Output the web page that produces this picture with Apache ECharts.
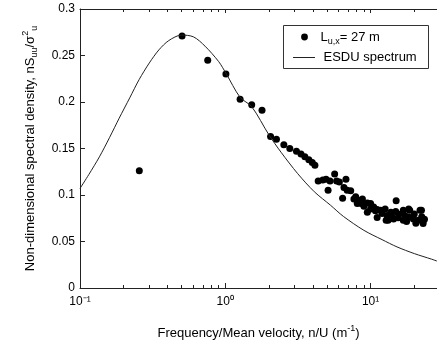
<!DOCTYPE html>
<html><head><meta charset="utf-8">
<script src="https://cdn.jsdelivr.net/npm/echarts@6/dist/echarts.min.js"></script>
<style>html,body{margin:0;padding:0;background:#fff}
#wrap{position:relative;width:437px;height:345px}
#c,#o{position:absolute;left:0;top:0;width:437px;height:345px}
#o{pointer-events:none}</style>
</head><body><div id="wrap"><div id="c"></div><div id="o"></div></div>
<script>
// Measured spectrum (n/U, nSuu/σu²)
const measuredX = [0.256,0.504,0.757,1.01,1.265,1.52,1.79,2.05,2.25,2.53,2.78,3.09,3.32,3.53,3.76,3.97,4.14,
  4.36,4.69,4.94,5.26,5.66,5.84,6.1,6.77,5.1,6.56,6.9,7.3,6.42,7.68,8.26,8.79,8.1,8.8,9.5,10.0,10.5,15.0,
  11.1,11.7,12.6,11.1,13.0,13.8,14.9,15.6,16.8,18.3,21.9,18.3,19.7,21.3,23.0,16.8,14.4,13.2,22.4,18.6,17.7,
  12.8,9.5,8.5,9.0,10.0,12.0,14.0,15.5,17.2,20.0,22.5,23.5,20.5,23.0,7.9,10.8];
const measuredY = [0.126,0.271,0.245,0.230,0.203,0.197,0.191,0.163,0.160,0.154,0.150,0.147,0.144,0.141,0.138,0.135,0.132,
  0.115,0.116,0.117,0.115,0.1225,0.115,0.114,0.117,0.105,0.108,0.105,0.1045,0.0966,0.0958,0.0944,0.0958,0.0908,0.0908,0.0915,0.0908,0.0872,0.0937,
  0.0844,0.0836,0.085,0.0757,0.0779,0.0815,0.0822,0.0793,0.0836,0.085,0.0836,0.0764,0.0742,0.0728,0.0721,0.0728,0.0742,0.0728,0.0836,0.0836,0.0714,
  0.0728,0.0815,0.091,0.088,0.085,0.080,0.077,0.0755,0.078,0.0795,0.0765,0.074,0.0695,0.0694,0.098,0.083];
// ESDU spectrum curve
const esduX = [0.1,0.115,0.136,0.16,0.186,0.22,0.255,0.3,0.349,0.408,0.5,0.605,0.726,0.9,1.01,1.265,1.52,2.0,2.42,3.15,4.1,5.3,6.5,9,12,15.2,20,26.3,28.6];
const esduY = [0.107,0.122,0.141,0.162,0.1825,0.2045,0.224,0.242,0.256,0.266,0.272,0.270,0.260,0.2435,0.231,0.205,0.195,0.1645,0.146,0.123,0.1035,0.089,0.077,0.062,0.052,0.0442,0.037,0.031,0.029];
const xMajorTicks = [0.1, 1, 10];
const xMajorLabels = ['10\u207B\u00B9', '10\u2070', '10\u00B9'];
const xMinorTicks = [0.2,0.3,0.4,0.5,0.6,0.7,0.8,0.9,2,3,4,5,6,7,8,9,20];
const seriesNames = ['Lux', 'ESDU spectrum'];

const FONT = "'Liberation Sans', Arial, Helvetica, sans-serif";
const XMIN = 0.1, XMAX = 28.66;

const zip = (a, b) => a.map((v, i) => [v, b[i]]);
const baseX = {type: 'log', logBase: 10, min: XMIN, max: XMAX, gridIndex: 0, splitLine: {show: false}};
const labelFor = v => {
  const i = xMajorTicks.findIndex(t => Math.abs(Math.log10(t) - Math.log10(v)) < 0.01);
  return i >= 0 ? xMajorLabels[i] : '';
};

const chart = echarts.init(document.getElementById('c'));
chart.setOption({
  animation: false,
  grid: {left: 80, right: -3, top: 9, bottom: 57},
  xAxis: [
    Object.assign({}, baseX, {
      position: 'bottom',
      axisLine: {show: true, lineStyle: {color: '#222', width: 1}},
      axisTick: {show: true, inside: true, length: 5, customValues: xMajorTicks, lineStyle: {color: '#222'}},
      axisLabel: {customValues: xMajorTicks, formatter: labelFor, fontFamily: FONT, fontSize: 12, color: '#000'}
    }),
    Object.assign({}, baseX, {
      position: 'bottom',
      axisLine: {show: false},
      axisTick: {show: true, inside: true, length: 3, customValues: xMinorTicks, lineStyle: {color: '#222'}},
      axisLabel: {show: false}
    }),
    Object.assign({}, baseX, {
      position: 'top',
      axisLine: {show: true, lineStyle: {color: '#222', width: 1}},
      axisTick: {show: true, inside: true, length: 4, customValues: xMajorTicks, lineStyle: {color: '#222'}},
      axisLabel: {show: false}
    }),
    Object.assign({}, baseX, {
      position: 'top',
      axisLine: {show: false},
      axisTick: {show: true, inside: true, length: 3, customValues: xMinorTicks, lineStyle: {color: '#222'}},
      axisLabel: {show: false}
    })
  ],
  yAxis: [{
    type: 'value', min: 0, max: 0.3, interval: 0.05, position: 'left',
    splitLine: {show: false},
    axisLine: {show: true, lineStyle: {color: '#222', width: 1}},
    axisTick: {show: true, inside: true, length: 5, lineStyle: {color: '#222'}},
    axisLabel: {fontFamily: FONT, fontSize: 12, color: '#000', margin: 5}
  }],
  series: [
    {
      name: seriesNames[0], type: 'scatter',
      data: zip(measuredX, measuredY), symbol: 'circle', symbolSize: 7,
      itemStyle: {color: '#000', opacity: 1}
    },
    {
      name: seriesNames[1], type: 'line',
      data: zip(esduX, esduY), showSymbol: false, symbol: 'none', smooth: 0.3,
      lineStyle: {color: '#222', width: 1}
    }
  ]
});

// Overlay instance: axis titles and legend box
const supRich = {
  m: {fontFamily: FONT, fontSize: 13, fill: '#000', lineHeight: 18},
  s: {fontFamily: FONT, fontSize: 9, fill: '#000', lineHeight: 10, verticalAlign: 'top'},
  b: {fontFamily: FONT, fontSize: 9, fill: '#000', lineHeight: 10, verticalAlign: 'bottom'}
};
const overlay = echarts.init(document.getElementById('o'));
overlay.setOption({
  animation: false,
  backgroundColor: 'transparent',
  graphic: [
    {type: 'text', x: 30, y: 148.5, rotation: Math.PI / 2, z: 11,
      style: {text: '{m|Non-dimensional spectral density, nS}{b|uu}{m|/σ}{s|2}{b|u}', align: 'center', verticalAlign: 'middle', rich: supRich}},
    {type: 'text', x: 258.5, y: 333, z: 11,
      style: {text: '{m|Frequency/Mean velocity, n/U (m}{s|-1}{m|)}', align: 'center', verticalAlign: 'middle', rich: supRich}},
    {type: 'rect', shape: {x: 283.5, y: 25.5, width: 145, height: 43}, style: {fill: '#fff', stroke: '#333', lineWidth: 1}, z: 10},
    {type: 'circle', shape: {cx: 304.5, cy: 37, r: 3.4}, style: {fill: '#000'}, z: 11},
    {type: 'line', shape: {x1: 293, y1: 57.5, x2: 315, y2: 57.5}, style: {stroke: '#222', lineWidth: 1}, z: 11},
    {type: 'text', x: 320.5, y: 37, z: 11, style: {text: '{m|L}{b|u,x}{m|= 27 m}', verticalAlign: 'middle', rich: supRich}},
    {type: 'text', x: 323.5, y: 57.5, z: 11, style: {text: 'ESDU spectrum', font: '13px ' + FONT, fill: '#000', verticalAlign: 'middle'}}
  ]
});
</script>
</body></html>
